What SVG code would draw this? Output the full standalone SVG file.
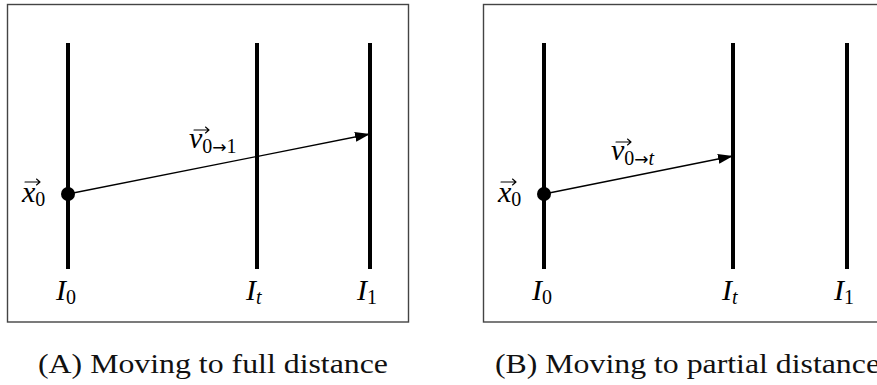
<svg xmlns="http://www.w3.org/2000/svg" width="877" height="385" viewBox="0 0 877 385">
<style>
.frame{fill:none;stroke:#444;stroke-width:1.4}
.bar{stroke:#000;stroke-width:4;stroke-linecap:butt}
.vec{stroke:#000;stroke-width:1.3;fill:none}
.acc{stroke:#000;stroke-width:1.1;fill:none;stroke-linecap:round;stroke-linejoin:round}
.m{font-family:"Liberation Serif","DejaVu Serif",serif;font-style:italic;font-size:30px;fill:#000}
.sub{font-style:normal;font-size:20px}
.subi{font-style:italic;font-size:20px}
.arr{font-family:"DejaVu Sans",sans-serif;font-style:normal;font-size:17px}
.cap{font-family:"Liberation Serif","DejaVu Serif",serif;font-size:27px;fill:#111}
</style>
<defs>
<marker id="ah" markerUnits="userSpaceOnUse" markerWidth="16" markerHeight="11" refX="15" refY="5" orient="auto">
<path d="M0,0 L15,5 L0,10 z" fill="#000"/>
</marker>
</defs>
<rect fill="#fff" x="0" y="0" width="877" height="385"/>

<g id="panelA">
<rect class="frame" x="7.5" y="4.5" width="401" height="317.5"/>
<g id="A_I0"><line class="bar" x1="68" y1="43" x2="68" y2="269"/><text class="m" x="56" y="300">I<tspan class="sub" dy="4">0</tspan></text></g>
<g id="A_It"><line class="bar" x1="257" y1="43" x2="257" y2="269"/><text class="m" x="246" y="300">I<tspan class="subi" dy="4">t</tspan></text></g>
<g id="A_I1"><line class="bar" x1="370" y1="43" x2="370" y2="269"/><text class="m" x="357" y="300">I<tspan class="sub" dy="4">1</tspan></text></g>
<g id="A_x0"><circle cx="68" cy="194" r="7" fill="#000"/><text class="m" x="22" y="202">x<tspan class="sub" dy="4">0</tspan></text><path class="acc" d="M25,182 H40 M36.5,179 L40,182 L36.5,185"/></g>
<g id="A_conn"><line class="vec" x1="68" y1="194" x2="370" y2="134" marker-end="url(#ah)"/><text class="m" x="189" y="148">v<tspan class="sub" dy="5">0</tspan><tspan class="arr">→</tspan><tspan class="sub">1</tspan></text><path class="acc" d="M194,130 H209 M205.5,127 L209,130 L205.5,133"/></g>
<text class="cap" x="38" y="373" textLength="350" lengthAdjust="spacingAndGlyphs">(A) Moving to full distance</text>
</g>

<g id="panelB">
<rect class="frame" x="483.5" y="4.5" width="400" height="317.5"/>
<g id="B_I0"><line class="bar" x1="544" y1="43" x2="544" y2="269"/><text class="m" x="532" y="300">I<tspan class="sub" dy="4">0</tspan></text></g>
<g id="B_It"><line class="bar" x1="733" y1="43" x2="733" y2="269"/><text class="m" x="722" y="300">I<tspan class="subi" dy="4">t</tspan></text></g>
<g id="B_I1"><line class="bar" x1="847" y1="43" x2="847" y2="269"/><text class="m" x="834" y="300">I<tspan class="sub" dy="4">1</tspan></text></g>
<g id="B_x0"><circle cx="544" cy="194" r="7" fill="#000"/><text class="m" x="498" y="202">x<tspan class="sub" dy="4">0</tspan></text><path class="acc" d="M501,182 H516 M512.5,179 L516,182 L512.5,185"/></g>
<g id="B_conn"><line class="vec" x1="544" y1="194" x2="733" y2="156" marker-end="url(#ah)"/><text class="m" x="611" y="160">v<tspan class="sub" dy="5">0</tspan><tspan class="arr">→</tspan><tspan class="subi">t</tspan></text><path class="acc" d="M616,142 H631 M627.5,139 L631,142 L627.5,145"/></g>
<text class="cap" x="495" y="373" textLength="385" lengthAdjust="spacingAndGlyphs">(B) Moving to partial distance</text>
</g>
</svg>
